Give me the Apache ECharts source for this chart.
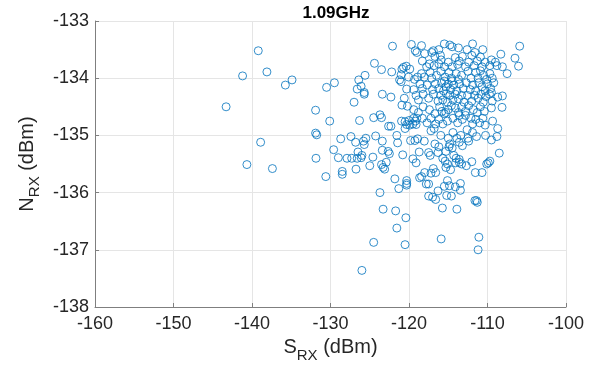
<!DOCTYPE html>
<html>
<head>
<meta charset="utf-8">
<script src="https://cdn.jsdelivr.net/npm/echarts@6/dist/echarts.min.js"></script>
<style>
  html, body { margin: 0; padding: 0; background: #fff; }
  #chart { width: 593px; height: 368px; }
</style>
</head>
<body>
<div id="chart"></div>
<script>
// S_RX (dBm) values
const srx = [
  -143.3, -141.2, -139.2, -138.1, -135.75, -134.9, -138.9, -140.65, -137.4,
  -122.1, -119.7, -118.4, -117.1, -116.9, -115.5, -114.8, -114.5, -113.7, -112.6, -111.9, -111.6, -110.6, -105.9, -119.0, -119.2, -118.0, -116.2, -116.0,
  -116.7, -115.9, -115.0, -114.1, -113.6, -113.2, -112.4, -112.0, -111.3, -110.9, -110.3, -109.7, -109.5, -108.3, -106.5, -117.4, -117.75, -116.8, -116.2, -115.5, -114.5, -113.8, -112.8, -111.7, -110.7, -109.0, -108.8, -108.1, -106.05, -124.4, -120.9, -120.7, -120.35, -119.9, -118.3,
  -125.6, -123.5, -122.2, -121.0, -120.05, -121.2, -126.4, -118.4, -118.05, -117.3, -117.1, -116.5, -115.95, -115.4, -114.9, -114.6, -114.0, -113.7, -113.3, -112.5, -112.1, -111.5, -111.2, -110.9, -110.5, -110.1, -109.7, -109.4, -107.5, -118.9, -119.3,
  -126.6, -126.1, -130.5, -129.5, -121.0, -120.3, -119.4, -118.6, -118.3, -117.7, -117.0, -116.65, -116.2, -115.85, -115.6, -115.3, -115.0, -114.7, -114.3, -113.9, -113.55, -113.1, -112.7, -112.2, -111.9, -111.5, -111.1, -110.7, -110.3, -110.0, -109.6, -109.2, -109.5, -115.5, -114.5,
  -125.7, -125.7, -123.4, -122.3, -120.6, -119.1, -118.8, -118.2, -117.5, -116.9, -116.3, -115.95, -115.7, -115.25, -115.1, -114.8, -114.4, -114.1, -113.7, -113.3, -113.0, -112.55, -112.0, -111.65, -111.2, -110.85, -110.55, -110.2, -109.75, -108.7, -108.1, -127.0, -109.4,
  -131.9, -120.9, -120.2, -123.7, -119.4, -118.8, -118.2, -117.4, -116.7, -116.1, -115.8, -115.5, -115.3, -115.0, -114.6, -114.1, -113.7, -113.3, -112.8, -112.4, -111.8, -111.3, -110.9, -110.4, -109.5, -108.15, -112.8, -113.6,
  -130.1, -126.3, -124.5, -123.5, -120.95, -120.5, -120.0, -120.3, -119.9, -119.5, -119.2, -119.0, -119.1, -119.4, -122.6, -122.3, -118.3, -117.7, -117.2, -116.6, -116.2, -115.7, -115.1, -114.4, -113.8, -113.2, -112.1, -111.9, -111.5, -111.0, -110.6, -109.35, -110.3,
  -131.9, -131.75, -128.7, -127.4, -125.5, -124.25, -121.55, -120.5, -118.9, -117.2, -115.95, -114.4, -113.9, -113.4, -112.6, -111.9, -111.4, -110.25, -108.8, -108.7, -116.8, -115.0, -112.5,
  -126.8, -125.8, -125.7, -123.4, -121.45, -119.8, -119.25, -118.05, -116.7, -116.2, -114.8, -114.5, -113.6, -113.2, -112.4, -109.5, -129.6, -123.4, -114.9,
  -122.65, -122.5, -126.5, -118.7, -120.8, -126.0, -126.1, -129.0, -131.85, -127.9, -127.3, -126.6, -124.6, -119.5, -117.5, -117.3, -116.3, -115.7, -115.4, -114.0, -113.6, -114.3, -108.5, -115.3,
  -119.1, -122.9, -125.0, -123.5, -123.3, -123.1, -126.75, -128.5, -118.0, -117.2, -116.9, -116.6, -115.1, -115.3, -114.05, -113.6, -113.3, -112.7, -112.0, -111.55, -110.7, -109.9, -109.7, -110.1, -114.7,
  -128.5, -130.6, -121.8, -118.65, -118.4, -120.3, -120.3, -120.3, -117.8, -117.5, -121.3, -123.7, -115.5, -115.1, -114.85, -114.1, -113.45, -113.45, -116.3,
  -117.5, -117.0, -116.6, -115.2, -114.6, -115.75, -113.9, -123.3, -121.7, -111.6, -111.4, -111.3, -120.4, -121.55, -111.1, -115.9, -124.5, -120.5, -111.2, -126.0
];
// N_RX (dBm) values, same order
const nrx = [
  -134.5, -133.96, -133.52, -133.89, -134.12, -134.03, -135.12, -135.51, -135.58,
  -133.44, -133.41, -133.43, -133.55, -133.52, -133.4, -133.42, -133.45, -133.47, -133.5, -133.4, -133.55, -133.5, -133.44, -133.55, -133.52, -133.57, -133.5, -133.6,
  -133.62, -133.68, -133.72, -133.64, -133.7, -133.62, -133.72, -133.6, -133.7, -133.63, -133.72, -133.78, -133.68, -133.58, -133.65, -133.75, -133.8, -133.78, -133.75, -133.8, -133.8, -133.76, -133.8, -133.78, -133.8, -133.72, -133.78, -133.8, -133.79, -133.74, -133.84, -133.81, -133.79, -133.84, -133.7,
  -133.95, -133.85, -133.89, -133.94, -133.98, -134.03, -134.03, -133.92, -133.98, -133.9, -134.0, -133.95, -133.88, -133.98, -133.9, -134.0, -133.92, -134.02, -133.95, -133.88, -134.0, -133.9, -134.0, -133.87, -133.95, -134.02, -133.92, -134.0, -133.92, -133.98, -134.02,
  -134.19, -134.14, -134.16, -134.08, -134.06, -134.19, -134.2, -134.1, -134.18, -134.12, -134.2, -134.1, -134.18, -134.08, -134.22, -134.15, -134.1, -134.2, -134.12, -134.22, -134.1, -134.18, -134.08, -134.2, -134.12, -134.22, -134.08, -134.15, -134.22, -134.1, -134.18, -134.08, -134.25, -134.05, -134.05,
  -134.25, -134.28, -134.28, -134.33, -134.35, -134.3, -134.38, -134.28, -134.35, -134.28, -134.4, -134.3, -134.38, -134.27, -134.42, -134.3, -134.38, -134.28, -134.36, -134.3, -134.42, -134.3, -134.4, -134.3, -134.35, -134.28, -134.42, -134.32, -134.28, -134.33, -134.31, -134.42, -134.4,
  -134.56, -134.47, -134.49, -134.64, -134.55, -134.6, -134.5, -134.55, -134.62, -134.5, -134.58, -134.62, -134.6, -134.55, -134.48, -134.52, -134.6, -134.5, -134.58, -134.48, -134.55, -134.6, -134.5, -134.58, -134.52, -134.51, -134.65, -134.65,
  -134.75, -134.74, -134.69, -134.69, -134.75, -134.76, -134.74, -134.81, -134.82, -134.8, -134.75, -134.7, -134.81, -134.7, -134.84, -134.84, -134.7, -134.78, -134.7, -134.8, -134.72, -134.8, -134.75, -134.7, -134.78, -134.72, -134.7, -134.8, -134.72, -134.78, -134.7, -134.75, -134.82,
  -134.96, -134.99, -135.06, -135.02, -135.05, -135.01, -135.0, -134.88, -135.06, -134.92, -135.0, -134.95, -135.05, -135.0, -134.9, -134.95, -135.02, -135.0, -135.02, -134.88, -134.88, -135.05, -135.05,
  -135.12, -135.1, -135.16, -135.1, -135.13, -135.09, -135.09, -135.1, -135.15, -135.2, -135.15, -135.22, -135.12, -135.18, -135.1, -135.08, -135.25, -135.26, -135.2,
  -135.28, -135.32, -135.29, -135.29, -135.34, -135.35, -135.39, -135.39, -135.4, -135.4, -135.4, -135.4, -135.38, -135.41, -135.3, -135.35, -135.3, -135.4, -135.45, -135.4, -135.42, -135.35, -135.31, -135.28,
  -135.48, -135.47, -135.53, -135.51, -135.56, -135.59, -135.59, -135.63, -135.65, -135.66, -135.58, -135.65, -135.5, -135.56, -135.48, -135.47, -135.5, -135.53, -135.46, -135.65, -135.65, -135.48, -135.45, -135.5, -135.6,
  -135.68, -135.72, -135.76, -135.74, -135.72, -135.79, -135.84, -135.87, -135.85, -135.85, -135.93, -136.0, -135.89, -135.79, -135.88, -135.9, -135.84, -135.96, -135.97,
  -136.06, -136.08, -136.12, -136.05, -136.06, -136.27, -136.29, -136.29, -136.32, -136.14, -136.14, -136.17, -136.44, -136.62, -136.78, -136.81, -136.87, -136.91, -137.0, -137.36
];
const xTicks = [-160, -150, -140, -130, -120, -110, -100];
const yTicks = [-138, -137, -136, -135, -134, -133];

const points = srx.map((x, i) => [x, nrx[i]]);

const chart = echarts.init(document.getElementById('chart'));
const labelFont = 'Liberation Sans, Arial, Helvetica, sans-serif';
const nameRich = {
  a: { fontFamily: labelFont, fontSize: 20, color: '#262626', lineHeight: 26, verticalAlign: 'top' },
  b: { fontFamily: labelFont, fontSize: 15, color: '#262626', lineHeight: 26, verticalAlign: 'top', padding: [10, 0, 0, 0] }
};
const option = {
  animation: false,
  title: {
    text: '1.09GHz',
    left: 331,
    top: 0,
    textAlign: 'center',
    textStyle: { fontFamily: labelFont, fontSize: 17, fontWeight: 'bold', color: '#000' }
  },
  grid: { left: 95, right: 27, top: 21, bottom: 61, outerBoundsMode: 'none' },
  xAxis: {
    type: 'value',
    min: xTicks[0],
    max: xTicks[xTicks.length - 1],
    interval: 10,
    name: '{a|S}{b|RX}{a| (dBm)}',
    nameLocation: 'middle',
    nameGap: 30,
    nameTextStyle: { rich: nameRich },
    axisLine: { show: true, onZero: false, lineStyle: { color: '#7f7f7f', width: 1 } },
    axisTick: { show: true, inside: true, length: 4, lineStyle: { color: '#7f7f7f' } },
    axisLabel: { fontFamily: labelFont, fontSize: 18, color: '#262626', margin: 8 },
    splitLine: { show: true, lineStyle: { color: '#e5e5e5', width: 1 } }
  },
  yAxis: {
    type: 'value',
    min: yTicks[0],
    max: yTicks[yTicks.length - 1],
    interval: 1,
    name: '{a|N}{b|RX}{a| (dBm)}',
    nameLocation: 'middle',
    nameGap: 52,
    nameTextStyle: { rich: nameRich },
    axisLine: { show: true, onZero: false, lineStyle: { color: '#7f7f7f', width: 1 } },
    axisTick: { show: true, inside: true, length: 4, lineStyle: { color: '#7f7f7f' } },
    axisLabel: { fontFamily: labelFont, fontSize: 18, color: '#262626', margin: 6 },
    splitLine: { show: true, lineStyle: { color: '#e5e5e5', width: 1 } }
  },
  series: [
    {
      type: 'scatter',
      data: points,
      symbol: 'circle',
      symbolSize: 8,
      itemStyle: { color: 'rgba(0,0,0,0)', borderColor: '#0072BD', borderWidth: 1 }
    }
  ]
};
chart.setOption(option);
</script>
</body>
</html>
